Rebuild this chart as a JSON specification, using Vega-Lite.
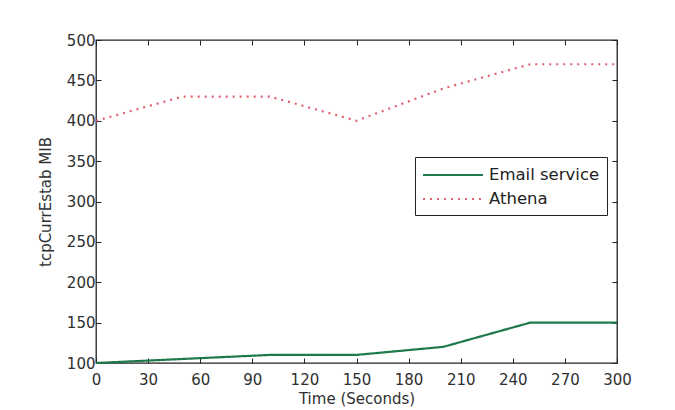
{
  "$schema": "https://vega.github.io/schema/vega-lite/v6.json",
  "autosize": {"type": "none"},
  "padding": {"left": 96, "top": 40, "right": 58, "bottom": 47},
  "width": 521,
  "height": 323,
  "background": "white",
  "config": {
    "font": "DejaVu Sans",
    "view": {"stroke": "#222222", "strokeWidth": 1.3}
  },
  "data": {
    "values": [
      {"t": 0, "v": 100, "series": "Email service"},
      {"t": 50, "v": 105, "series": "Email service"},
      {"t": 100, "v": 110, "series": "Email service"},
      {"t": 150, "v": 110, "series": "Email service"},
      {"t": 200, "v": 120, "series": "Email service"},
      {"t": 250, "v": 150, "series": "Email service"},
      {"t": 300, "v": 150, "series": "Email service"},
      {"t": 0, "v": 400, "series": "Athena"},
      {"t": 50, "v": 430, "series": "Athena"},
      {"t": 100, "v": 430, "series": "Athena"},
      {"t": 150, "v": 400, "series": "Athena"},
      {"t": 200, "v": 440, "series": "Athena"},
      {"t": 250, "v": 470, "series": "Athena"},
      {"t": 300, "v": 470, "series": "Athena"}
    ]
  },
  "layer": [
    {
      "mark": {"type": "line", "strokeWidth": 2.2},
      "encoding": {
        "x": {
          "field": "t", "type": "quantitative",
          "scale": {"domain": [0, 300], "nice": false, "zero": false},
          "axis": {
            "orient": "bottom",
            "values": [0, 30, 60, 90, 120, 150, 180, 210, 240, 270, 300],
            "grid": false, "domain": false,
            "tickSize": -5, "tickColor": "#222222", "tickWidth": 1,
            "labelPadding": 14, "labelFlush": false, "labelOverlap": false,
            "labelFontSize": 15, "labelColor": "#303030",
            "title": "Time (Seconds)", "titleFontSize": 15, "titleFontWeight": "normal",
            "titleColor": "#303030", "titleX": 260.5, "titleY": 35,
            "titleAlign": "center", "titleBaseline": "middle"
          }
        },
        "y": {
          "field": "v", "type": "quantitative",
          "scale": {"domain": [100, 500], "nice": false, "zero": false},
          "axis": {
            "orient": "left",
            "values": [100, 150, 200, 250, 300, 350, 400, 450, 500],
            "grid": false, "domain": false,
            "tickSize": -5, "tickColor": "#222222", "tickWidth": 1,
            "labelPadding": 6, "labelFlush": false, "labelOverlap": false,
            "labelFontSize": 15, "labelColor": "#303030",
            "title": "tcpCurrEstab MIB", "titleFontSize": 15, "titleFontWeight": "normal",
            "titleColor": "#303030", "titleX": -51, "titleY": 161.5,
            "titleAlign": "center", "titleBaseline": "middle", "titleAngle": -90
          }
        },
        "color": {
          "field": "series", "type": "nominal",
          "scale": {"domain": ["Email service", "Athena"], "range": ["#1e7a4a", "#e0606e"]},
          "legend": {
            "orient": "none", "legendX": 319, "legendY": 117, "title": null,
            "padding": 7, "strokeColor": "#222222", "fillColor": "white",
            "symbolType": "M-3,0H3", "symbolSize": 400, "symbolStrokeWidth": 2,
            "symbolOffset": 20,
            "labelFontSize": 16.5, "labelColor": "#222222", "labelOffset": 25, "rowPadding": 4
          }
        },
        "strokeDash": {
          "field": "series", "type": "nominal",
          "scale": {"domain": ["Email service", "Athena"], "range": [[1, 0], [2, 5]]},
          "legend": {
            "orient": "none", "legendX": 319, "legendY": 117, "title": null,
            "padding": 7, "strokeColor": "#222222", "fillColor": "white",
            "symbolType": "M-3,0H3", "symbolSize": 400, "symbolStrokeWidth": 2,
            "symbolOffset": 20,
            "labelFontSize": 16.5, "labelColor": "#222222", "labelOffset": 25, "rowPadding": 4
          }
        }
      }
    },
    {
      "mark": {"type": "line", "opacity": 0},
      "encoding": {
        "x": {
          "field": "t", "type": "quantitative",
          "scale": {"domain": [0, 300], "nice": false, "zero": false},
          "axis": {
            "orient": "top",
            "values": [0, 30, 60, 90, 120, 150, 180, 210, 240, 270, 300],
            "grid": false, "domain": false, "labels": false, "title": null,
            "tickSize": -5, "tickColor": "#222222", "tickWidth": 1
          }
        },
        "y": {
          "field": "v", "type": "quantitative",
          "scale": {"domain": [100, 500], "nice": false, "zero": false},
          "axis": {
            "orient": "right",
            "values": [100, 150, 200, 250, 300, 350, 400, 450, 500],
            "grid": false, "domain": false, "labels": false, "title": null,
            "tickSize": -5, "tickColor": "#222222", "tickWidth": 1
          }
        },
        "detail": {"field": "series", "type": "nominal"}
      }
    }
  ],
  "resolve": {"axis": {"x": "independent", "y": "independent"}}
}
